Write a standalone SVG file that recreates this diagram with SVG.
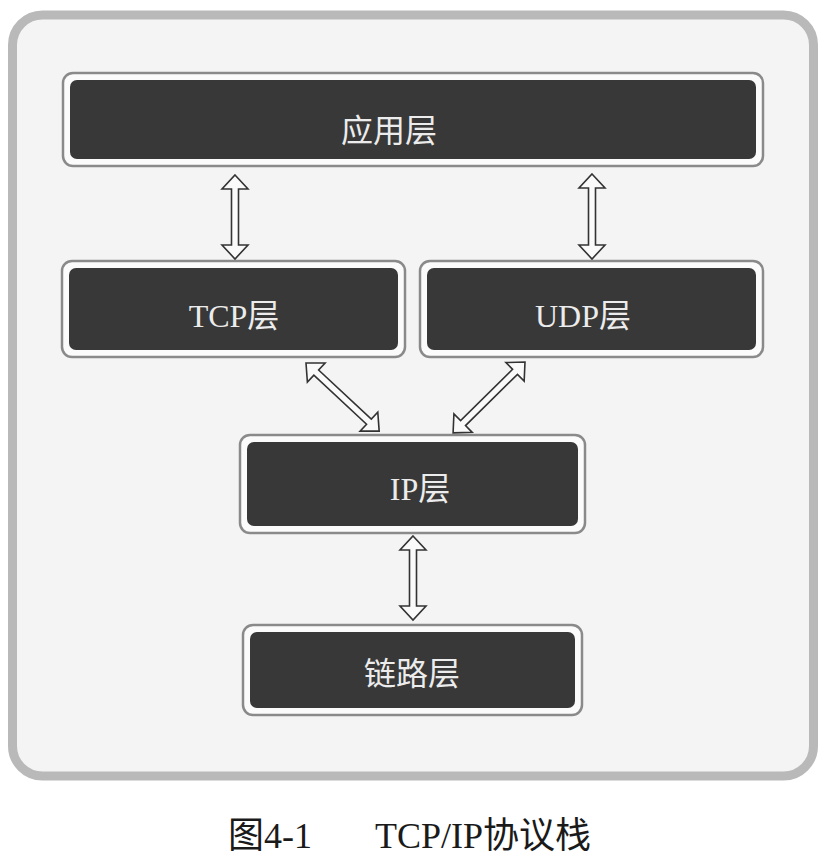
<svg xmlns="http://www.w3.org/2000/svg" width="830" height="866" viewBox="0 0 830 866">
<style>
.outer{fill:#fbfbfb;stroke:#8a8a8a;stroke-width:2.5}
.inner{fill:#383838}
.lbl{fill:#ececec;font-family:"Liberation Serif","Noto Sans CJK SC",serif;font-size:32px;text-anchor:middle}
.arr{fill:#fafafa;stroke:#333;stroke-width:1.6;stroke-linejoin:miter}
.cap{fill:#1a1a1a;font-family:"Liberation Serif","Noto Sans CJK SC",serif;font-size:36px}
</style>
<rect width="830" height="866" fill="#ffffff"/>
<rect x="12.5" y="15" width="801" height="761" rx="30" fill="#f4f4f4" stroke="#b9b9b9" stroke-width="9"/>
<g id="app">
<rect class="outer" x="63" y="73" width="700" height="93" rx="10"/>
<rect class="inner" x="70" y="80" width="686" height="79" rx="7"/>
<text class="lbl" x="389" y="142">应用层</text>
</g>
<g id="tcp">
<rect class="outer" x="62" y="261" width="343" height="96" rx="10"/>
<rect class="inner" x="69" y="268" width="329" height="82" rx="7"/>
<text class="lbl" x="234" y="327">TCP层</text>
</g>
<g id="udp">
<rect class="outer" x="420" y="261" width="343" height="96" rx="10"/>
<rect class="inner" x="427" y="268" width="329" height="82" rx="7"/>
<text class="lbl" x="583" y="327">UDP层</text>
</g>
<g id="ip">
<rect class="outer" x="240" y="435" width="345" height="98" rx="10"/>
<rect class="inner" x="247" y="442" width="331" height="84" rx="7"/>
<text class="lbl" x="420" y="500">IP层</text>
</g>
<g id="link">
<rect class="outer" x="243" y="625" width="339" height="90" rx="10"/>
<rect class="inner" x="250" y="632" width="325" height="76" rx="7"/>
<text class="lbl" x="412" y="685">链路层</text>
</g>
<g id="connectors">
<polygon class="arr" transform="translate(235,175) rotate(90)" points="0,0 14,-13 14,-3.5 70,-3.5 70,-13 84,0 70,13 70,3.5 14,3.5 14,13"/>
<polygon class="arr" transform="translate(592,174) rotate(90)" points="0,0 14,-13 14,-3.5 71,-3.5 71,-13 85,0 71,13 71,3.5 14,3.5 14,13"/>
<polygon class="arr" transform="translate(306,363) rotate(42.97)" points="0,0 14,-13 14,-3.5 86,-3.5 86,-13 100,0 86,13 86,3.5 14,3.5 14,13"/>
<polygon class="arr" transform="translate(525,362) rotate(135.4)" points="0,0 14,-13 14,-3.5 87,-3.5 87,-13 101,0 87,13 87,3.5 14,3.5 14,13"/>
<polygon class="arr" transform="translate(413,536) rotate(90)" points="0,0 14,-13 14,-3.5 70,-3.5 70,-13 84,0 70,13 70,3.5 14,3.5 14,13"/>
</g>
<text class="cap" x="228" y="848">图4-1</text>
<text class="cap" x="375" y="848">TCP/IP协议栈</text>
</svg>
